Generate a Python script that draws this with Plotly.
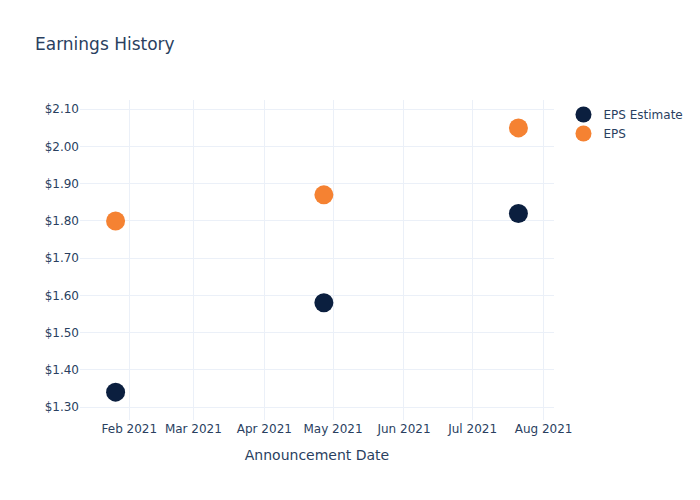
import plotly.graph_objects as go

dates = ["2021-01-26", "2021-04-27", "2021-07-21"]
eps_estimate = [1.34, 1.58, 1.82]
eps_actual = [1.80, 1.87, 2.05]

fig = go.Figure()
fig.add_trace(go.Scatter(x=dates, y=eps_estimate, mode="markers", name="EPS Estimate",
                         marker=dict(color="#0b1f3f", size=19)))
fig.add_trace(go.Scatter(x=dates, y=eps_actual, mode="markers", name="EPS",
                         marker=dict(color="#f58232", size=19)))
fig.update_layout(
    template="plotly_white",
    width=700, height=500,
    font=dict(family="DejaVu Sans"),
    title=dict(text="Earnings History"),
    xaxis=dict(title="Announcement Date"),
    yaxis=dict(tickprefix="$", tickformat=".2f"),
)
fig.write_html("out.html")
